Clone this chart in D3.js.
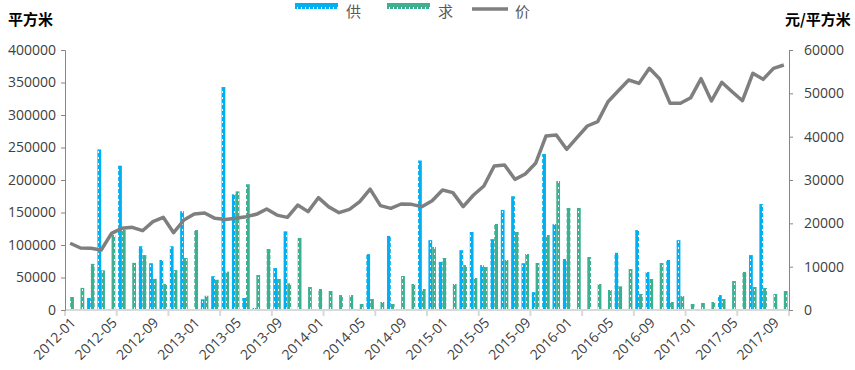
<!DOCTYPE html>
<html>
<head>
<meta charset="utf-8">
<script src="https://cdn.jsdelivr.net/npm/d3@7"></script>
<style>
  body { margin: 0; background: #fff; }
  svg text { font-family: "Open Sans", "Noto Sans CJK SC", sans-serif; }
</style>
</head>
<body>
<div id="chart"></div>
<script>
// chart size
let width = 855;
let height = 370;

// months 2012-01 .. 2017-10
let months = [];
for (let y = 2012; y <= 2017; y++) {
    for (let m = 1; m <= 12; m++) {
        if (y == 2017 && m > 10) break;
        months.push(y + '-' + (m < 10 ? '0' + m : m));
    }
}

// 供 (m2)
let supply = [0, 0, 18500, 247000, 0, 222000, 0, 98000, 72000, 77000,
    98000, 152000, 0, 16500, 52000, 343000, 178000, 18500, 3000, 0,
    64500, 121000, 0, 0, 0, 0, 0, 0, 0, 86000,
    0, 114000, 0, 0, 230000, 107500, 74000, 0, 92000, 120000,
    69000, 109000, 154000, 175000, 72000, 27500, 240000, 132000, 78500, 0,
    0, 0, 0, 88000, 0, 123000, 58500, 0, 77000, 107500,
    0, 0, 0, 23000, 0, 0, 84500, 163000, 0, 0];

// 求 (m2)
let demand = [20000, 34000, 71000, 61000, 115500, 123500, 72500, 84500, 48000, 40000,
    61500, 80000, 123000, 22000, 46500, 59000, 182500, 193500, 53800, 93800,
    47700, 41000, 110800, 35400, 32300, 29200, 23000, 23000, 9200, 16900,
    12300, 9200, 52300, 40000, 32300, 97000, 80000, 40000, 69200, 49200,
    66200, 132300, 76900, 120000, 86200, 72300, 115400, 198500, 157000, 157000,
    81500, 40000, 30800, 36400, 63000, 24600, 47700, 72300, 12300, 21500,
    9200, 10800, 12300, 16900, 44600, 58500, 35400, 33800, 24600, 29200];

// 价 (元/m2)
let price = [15400, 14300, 14240, 13850, 17700, 18850, 19080, 18300, 20380, 21380,
    17850, 20770, 22150, 22380, 21150, 20900, 21150, 21540, 22080, 23300,
    21900, 21380, 24230, 22700, 25920, 23800, 22460, 23230, 25000, 27900,
    24080, 23460, 24460, 24380, 23850, 25230, 27700, 27080, 23850, 26540,
    28610, 33230, 33460, 30150, 31380, 33850, 40150, 40380, 37080, 39800,
    42460, 43460, 48070, 50600, 53070, 52300, 55770, 53300, 47700, 47700,
    49000, 53380, 48230, 52540, 50380, 48300, 54610, 53230, 55770, 56540];

let leftTicks = [0, 50000, 100000, 150000, 200000, 250000, 300000, 350000, 400000];
let rightTicks = [0, 10000, 20000, 30000, 40000, 50000, 60000];
let seriesNames = ['供', '求', '价'];
let colors = {'供': '#00B0F0', '求': '#3EB092', '价': '#7F7F7F'};

// plot area edges
let plotLeft = 65, plotRight = 789, plotTop = 50, plotBottom = 310;

let svg = d3.select('#chart')
.append('svg')
.attr('width', width)
.attr('height', height);

// white dotted pattern, one for each bar colour
let defs = svg.append('defs');
['供', '求'].forEach(function(name, i){
    let p = defs.append('pattern')
    .attr('id', 'pat' + i)
    .attr('patternUnits', 'userSpaceOnUse')
    .attr('width', 4)
    .attr('height', 6);
    p.append('rect').attr('width', 4).attr('height', 6).attr('fill', colors[name]);
    p.append('rect').attr('x', 2).attr('y', 1).attr('width', 1).attr('height', 2).attr('fill', '#fff');
});

let x0 = d3.scaleBand()
.domain(months)
.range([plotLeft, plotRight])
.paddingInner(0.27)
.paddingOuter(0.135);

let x1 = d3.scaleBand()
.domain(['供', '求'])
.range([0, x0.bandwidth()]);

let xIdx = d3.scaleLinear().domain([0, months.length]).range([plotLeft, plotRight]);

let yLeft = d3.scaleLinear().domain([0, 400000]).range([plotBottom, plotTop]);
let yRight = d3.scaleLinear().domain([0, 60000]).range([plotBottom, plotTop]);

// bars
let bars = svg.append('g');
[supply, demand].forEach(function(series, si){
    let name = seriesNames[si];
    bars.selectAll('.bar' + si)
    .data(series)
    .enter()
    .append('rect')
    .attr('class', 'bar' + si)
    .attr('x', function(d, i){ return x0(months[i]) + x1(name); })
    .attr('width', x1.bandwidth())
    .attr('y', function(d){ return yLeft(d); })
    .attr('height', function(d){ return plotBottom - yLeft(d); })
    .attr('fill', 'url(#pat' + si + ')');
});

// bottom axis
let xAxis = svg.append('g');
xAxis.append('line')
.attr('x1', plotLeft).attr('x2', plotRight)
.attr('y1', plotBottom).attr('y2', plotBottom)
.attr('stroke', '#d9d9d9').attr('stroke-width', 2);
xAxis.selectAll('.xt')
.data(d3.range(0, months.length + 1, 5))
.enter().append('line')
.attr('x1', function(d){ return xIdx(d); })
.attr('x2', function(d){ return xIdx(d); })
.attr('y1', plotBottom).attr('y2', plotBottom + 6)
.attr('stroke', '#d9d9d9').attr('stroke-width', 2);
xAxis.selectAll('.xl')
.data(months.filter(function(d, i){ return i % 4 == 0; }))
.enter().append('text')
.attr('transform', function(d){
    return 'translate(' + (x0(d) + x0.bandwidth() / 2 + 3) + ',' + (plotBottom + 10) + ') rotate(-45)';
})
.attr('text-anchor', 'end')
.attr('dy', '0.35em')
.attr('fill', '#404040')
.style('font-size', '14px')
.text(function(d){ return d; });

// left axis
let yAxisL = svg.append('g')
.attr('transform', 'translate(' + plotLeft + ',0)')
.call(d3.axisLeft(yLeft).tickValues(leftTicks).tickSize(4).tickPadding(5).tickFormat(d3.format('d')));
yAxisL.select('.domain').attr('stroke', '#868686');
yAxisL.selectAll('.tick line').attr('stroke', '#868686');
yAxisL.selectAll('text').attr('fill', '#404040').style('font-size', '14px');

// right axis
let yAxisR = svg.append('g')
.attr('transform', 'translate(' + plotRight + ',0)')
.call(d3.axisRight(yRight).tickValues(rightTicks).tickSize(4).tickPadding(11).tickFormat(d3.format('d')));
yAxisR.select('.domain').attr('stroke', '#868686');
yAxisR.selectAll('.tick line').attr('stroke', '#868686');
yAxisR.selectAll('text').attr('fill', '#404040').style('font-size', '14px');

// price line
let line = d3.line()
.x(function(d, i){ return x0(months[i]) + x0.bandwidth() / 2; })
.y(function(d){ return yRight(d); });

svg.append('path')
.datum(price)
.attr('d', line)
.attr('fill', 'none')
.attr('stroke', colors['价'])
.attr('stroke-width', 3.5)
.attr('stroke-linejoin', 'round');

// unit titles
svg.append('text')
.attr('x', 8).attr('y', 25)
.style('font-family', '"Noto Sans CJK SC", sans-serif')
.style('font-size', '15px')
.style('font-weight', 'bold')
.attr('fill', '#000')
.text('平方米');

svg.append('text')
.attr('x', 785).attr('y', 25)
.style('font-family', '"Noto Sans CJK SC", sans-serif')
.style('font-size', '15px')
.style('font-weight', 'bold')
.attr('fill', '#000')
.text('元/平方米');

// legend
let legend = svg.append('g');
let legendX = [295, 387, 472];
seriesNames.forEach(function(name, i){
    let g = legend.append('g').attr('transform', 'translate(' + legendX[i] + ',0)');
    if (i < 2) {
        g.append('rect')
        .attr('x', 0).attr('y', 3)
        .attr('width', 43).attr('height', 6)
        .attr('fill', 'url(#pat' + i + ')');
    } else {
        g.append('line')
        .attr('x1', 0).attr('x2', 36)
        .attr('y1', 9).attr('y2', 9)
        .attr('stroke', colors[name]).attr('stroke-width', 3.5);
    }
    g.append('text')
    .attr('x', i < 2 ? 51 : 43).attr('y', 17)
    .style('font-family', '"Noto Sans CJK SC", sans-serif')
    .style('font-size', '15px')
    .attr('fill', '#595959')
    .text(name);
});
</script>
</body>
</html>
